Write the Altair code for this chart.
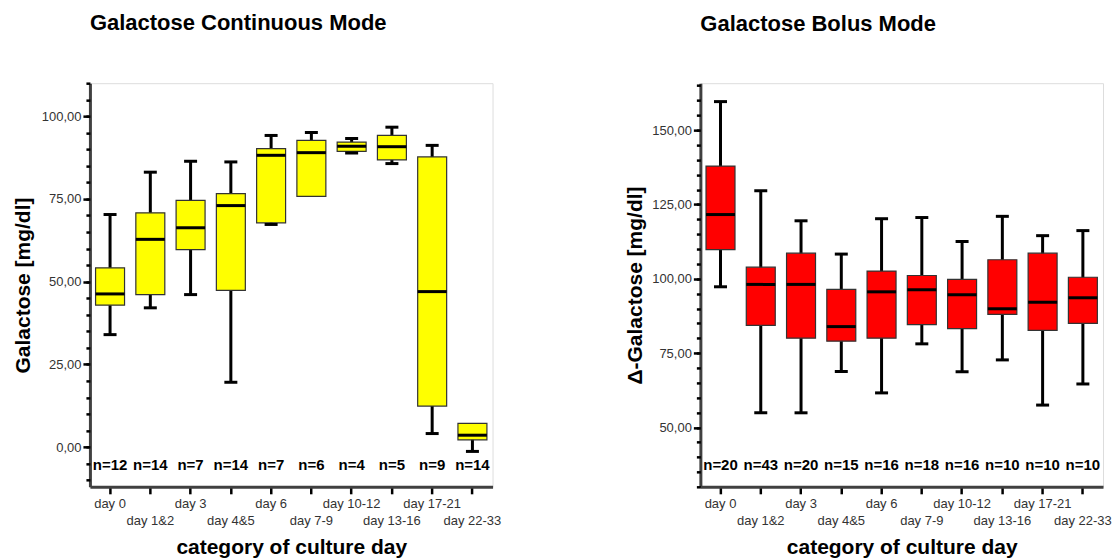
import json
import altair as alt
import pandas as pd

FONT = "Liberation Sans"

categories = ["day 0", "day 1&2", "day 3", "day 4&5", "day 6", "day 7-9",
              "day 10-12", "day 13-16", "day 17-21", "day 22-33"]

# Galactose Continuous Mode
cont_low = [34.0, 42.1, 46.1, 19.6, 67.3, 75.8, 88.9, 85.7, 4.1, -1.3]
cont_q1 = [42.9, 46.1, 59.7, 47.4, 67.8, 75.8, 89.4, 86.8, 12.4, 2.2]
cont_median = [46.3, 62.8, 66.3, 73.0, 88.2, 89.0, 90.9, 90.8, 47.0, 3.6]
cont_q3 = [54.2, 70.8, 74.6, 76.6, 90.2, 92.7, 92.2, 94.2, 87.7, 7.2]
cont_high = [70.3, 83.1, 86.4, 86.2, 94.2, 95.1, 93.3, 96.7, 91.2, 7.2]
cont_n = [12, 14, 7, 14, 7, 6, 4, 5, 9, 14]

# Galactose Bolus Mode
bolus_low = [97.3, 54.9, 54.9, 68.8, 61.6, 78.1, 68.7, 72.7, 57.5, 64.6]
bolus_q1 = [109.8, 84.3, 80.0, 79.0, 80.0, 84.6, 83.2, 88.0, 82.6, 85.0]
bolus_median = [121.6, 98.1, 98.1, 83.9, 95.6, 96.3, 94.6, 89.9, 92.1, 93.6]
bolus_q3 = [137.9, 103.9, 108.6, 96.4, 102.6, 101.1, 99.8, 106.4, 108.6, 100.5]
bolus_high = [159.6, 129.6, 119.5, 108.3, 120.2, 120.6, 112.5, 121.0, 114.5, 116.2]
bolus_n = [20, 43, 20, 15, 16, 18, 16, 10, 10, 10]

cont_major = [0, 25, 50, 75, 100]
cont_minor = list(range(-10, 111, 5))
bolus_major = [50, 75, 100, 125, 150]
bolus_minor = list(range(30, 166, 5))


def make_df(low, q1, med, q3, high, n):
    return pd.DataFrame({
        "cat": categories, "lo": low, "q1": q1, "med": med, "q3": q3,
        "hi": high, "nlab": [f"n={v}" for v in n],
    })


cats_js = json.dumps(categories).replace('"', "'")
x_label_expr = (f"indexof({cats_js}, datum.value) % 2 === 1 "
                "? ['', datum.label] : datum.label")
y_label_expr = "replace(format(datum.value, '.2f'), '.', ',')"


def panel(df, color, domain, major, minor, title, ytitle, ytitle_pad):
    xaxis = alt.Axis(
        title="category of culture day", labelAngle=0, labelExpr=x_label_expr,
        labelFontSize=13, labelColor="#333333", labelFont=FONT,
        labelBaseline="top", labelLineHeight=17, labelPadding=4,
        labelOverlap=False,
        tickSize=7, tickWidth=2.5, tickColor="black",
        domainColor="#404040", domainWidth=3,
        titleFont=FONT, titleFontSize=21, titleFontWeight="bold",
        titleColor="black", titlePadding=9, grid=False,
    )
    yaxis_major = alt.Axis(
        title=ytitle, orient="left", values=major, labelExpr=y_label_expr,
        labelFontSize=13, labelColor="#333333", labelFont=FONT, labelPadding=2,
        labelOverlap=False, tickSize=7, tickWidth=2.5, tickColor="black",
        domainColor="#404040", domainWidth=3,
        titleFont=FONT, titleFontSize=21, titleFontWeight="bold",
        titleColor="black", titlePadding=ytitle_pad, grid=False,
    )
    yaxis_minor = alt.Axis(
        title=None, orient="left", values=minor, labels=False, domain=False,
        tickSize=4, tickWidth=2.5, tickColor="black", grid=False,
    )
    xenc = alt.X("cat:N", sort=categories, axis=xaxis,
                 scale=alt.Scale(paddingInner=0, paddingOuter=0))
    yscale = alt.Scale(domain=domain, nice=False, zero=False)
    base = alt.Chart(df).encode(x=xenc)
    whisk = base.mark_rule(color="black", strokeWidth=3).encode(
        y=alt.Y("lo:Q", scale=yscale, axis=yaxis_major), y2="hi:Q")
    box = base.mark_bar(size=29, color=color, stroke="#333333",
                        strokeWidth=1.2, opacity=1).encode(
        y=alt.Y("q1:Q", scale=yscale, axis=yaxis_minor), y2="q3:Q")
    med = base.mark_tick(size=29, thickness=3, color="black",
                         opacity=1).encode(y=alt.Y("med:Q", axis=None))
    cap_lo = base.transform_filter("datum.lo < datum.q1").mark_tick(
        size=13, thickness=3, color="black", opacity=1).encode(
        y=alt.Y("lo:Q", axis=None))
    cap_hi = base.transform_filter("datum.hi > datum.q3").mark_tick(
        size=13, thickness=3, color="black", opacity=1).encode(
        y=alt.Y("hi:Q", axis=None))
    nlab = base.mark_text(font=FONT, fontSize=15, fontWeight="bold",
                          color="black", baseline="middle").encode(
        y=alt.value(382), text="nlab:N")
    return alt.layer(whisk, box, med, cap_lo, cap_hi, nlab).resolve_axis(
        y="independent").properties(
        width=403, height=404,
        title=alt.TitleParams(title, anchor="start", frame="group",
                              font=FONT, fontSize=22, fontWeight="bold",
                              color="black", offset=47),
    )


left = panel(make_df(cont_low, cont_q1, cont_median, cont_q3, cont_high, cont_n),
             "#FFFF00", [-12, 110], cont_major, cont_minor,
             "Galactose Continuous Mode", "Galactose [mg/dl]", 8)
right = panel(make_df(bolus_low, bolus_q1, bolus_median, bolus_q3, bolus_high, bolus_n),
              "#FF0000", [30, 165.8], bolus_major, bolus_minor,
              "Galactose Bolus Mode", "Δ-Galactose [mg/dl]", 6)

chart = alt.hconcat(left, right, spacing=122).properties(
    padding={"left": 3, "top": 3, "right": 0, "bottom": 0}
).configure_view(stroke="#404040", strokeWidth=2.5).configure(
    background="white")

chart.save("out.html", embed_options={"renderer": "svg", "actions": False})
